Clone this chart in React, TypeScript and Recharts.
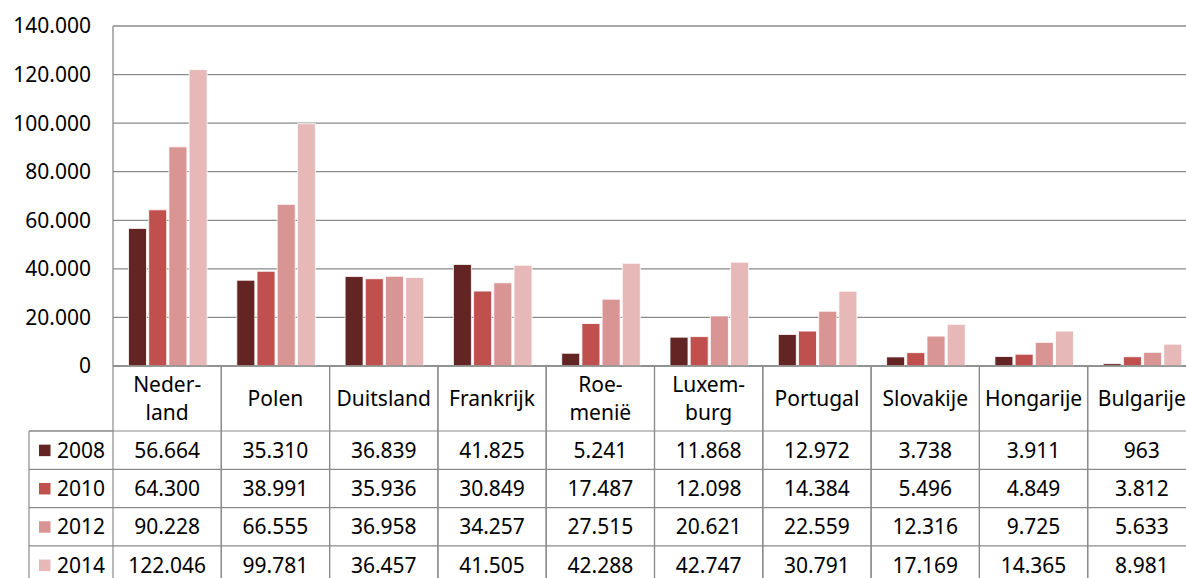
import { BarChart, Bar, XAxis, YAxis, CartesianGrid } from "recharts";

const categories = [
  "Nederland",
  "Polen",
  "Duitsland",
  "Frankrijk",
  "Roemenië",
  "Luxemburg",
  "Portugal",
  "Slovakije",
  "Hongarije",
  "Bulgarije",
];

const categoryLines = [
  ["Neder-", "land"],
  ["Polen"],
  ["Duitsland"],
  ["Frankrijk"],
  ["Roe-", "menië"],
  ["Luxem-", "burg"],
  ["Portugal"],
  ["Slovakije"],
  ["Hongarije"],
  ["Bulgarije"],
];

const values2008 = [56664, 35310, 36839, 41825, 5241, 11868, 12972, 3738, 3911, 963];
const values2010 = [64300, 38991, 35936, 30849, 17487, 12098, 14384, 5496, 4849, 3812];
const values2012 = [90228, 66555, 36958, 34257, 27515, 20621, 22559, 12316, 9725, 5633];
const values2014 = [122046, 99781, 36457, 41505, 42288, 42747, 30791, 17169, 14365, 8981];

const yTicks = [0, 20000, 40000, 60000, 80000, 100000, 120000, 140000];

const SERIES = [
  { key: "y2008", label: "2008", color: "#632523", values: values2008 },
  { key: "y2010", label: "2010", color: "#C0504D", values: values2010 },
  { key: "y2012", label: "2012", color: "#D99594", values: values2012 },
  { key: "y2014", label: "2014", color: "#E6B9B8", values: values2014 },
];

const chartRows = categories.map((name, i) => {
  const row: Record<string, string | number> = { name };
  SERIES.forEach((s) => {
    row[s.key] = s.values[i];
  });
  return row;
});

const FONT = "'Noto Sans', sans-serif";
const FONT_SIZE = 21;
const LINE = "#8a8a8a";
const CHART_W = 1196;
const CHART_H = 578;
const LEFT = 113;
const PLOT_W = CHART_W - LEFT;
const COL_W = PLOT_W / categories.length;
const HEADER_H = 65;
const ROW_H = 38.3;
const LEGEND_LEFT = 29;

function formatNl(value: number) {
  return String(Math.round(value)).replace(/\B(?=(\d{3})+(?!\d))/g, ".");
}

function TableTick(props: any) {
  const { x, y, payload } = props;
  const index = categories.indexOf(payload.value);
  const left = x - COL_W / 2;
  const right = x + COL_W / 2;
  const lines = categoryLines[index] || [payload.value];
  const bottom = y + HEADER_H + ROW_H * SERIES.length + 10;
  const headerMid = y + HEADER_H / 2;

  return (
    <g fontFamily={FONT} fontSize={FONT_SIZE} fill="#000">
      <line x1={left} y1={y} x2={left} y2={bottom} stroke={LINE} strokeWidth={1.2} />
      <line x1={right} y1={y} x2={right} y2={bottom} stroke={LINE} strokeWidth={1.2} />
      {lines.length === 1 ? (
        <text x={x} y={headerMid + 7.5} textAnchor="middle">
          {lines[0]}
        </text>
      ) : (
        lines.map((t, i) => (
          <text key={t} x={x} y={headerMid - 6.5 + i * 28} textAnchor="middle">
            {t}
          </text>
        ))
      )}
      {SERIES.map((s, r) => {
        const top = y + HEADER_H + r * ROW_H;
        return (
          <g key={s.key}>
            <line x1={left} y1={top} x2={right} y2={top} stroke={LINE} strokeWidth={1.2} />
            <text x={x} y={top + ROW_H / 2 + 7.5} textAnchor="middle">
              {formatNl(s.values[index])}
            </text>
          </g>
        );
      })}
      {index === 0 && (
        <g>
          <line x1={LEGEND_LEFT} y1={y + HEADER_H} x2={left} y2={y + HEADER_H} stroke={LINE} strokeWidth={1.2} />
          <line x1={LEGEND_LEFT} y1={y + HEADER_H} x2={LEGEND_LEFT} y2={bottom} stroke={LINE} strokeWidth={1.2} />
          {SERIES.map((s, r) => {
            const top = y + HEADER_H + r * ROW_H;
            return (
              <g key={s.key}>
                <line x1={LEGEND_LEFT} y1={top} x2={left} y2={top} stroke={LINE} strokeWidth={1.2} />
                <rect x={39} y={top + ROW_H / 2 - 5.5} width={11.5} height={11.5} fill={s.color} />
                <text x={57} y={top + ROW_H / 2 + 7.5}>
                  {s.label}
                </text>
              </g>
            );
          })}
        </g>
      )}
    </g>
  );
}

export default function App() {
  return (
    <div
      style={{
        position: "absolute",
        left: 0,
        top: 0,
        width: 1186,
        height: 578,
        overflow: "hidden",
        background: "#fff",
      }}
    >
      <BarChart
        width={CHART_W}
        height={CHART_H}
        data={chartRows}
        margin={{ top: 26, right: 0, left: 0, bottom: 0 }}
        barCategoryGap={15.5}
        barGap={2.2}
      >
        <CartesianGrid vertical={false} stroke={LINE} strokeWidth={1.3} />
        <YAxis
          width={LEFT}
          domain={[0, 140000]}
          ticks={yTicks}
          tickFormatter={formatNl}
          axisLine={{ stroke: LINE, strokeWidth: 1.3 }}
          tickLine={false}
          tickSize={0}
          tickMargin={22}
          tick={{ fontFamily: FONT, fontSize: FONT_SIZE, fill: "#000" }}
        />
        <XAxis
          dataKey="name"
          height={CHART_H - 366}
          interval={0}
          axisLine={{ stroke: LINE, strokeWidth: 1.3 }}
          tickLine={false}
          tickSize={0}
          tickMargin={0}
          tick={<TableTick />}
        />
        {SERIES.map((s) => (
          <Bar
            key={s.key}
            dataKey={s.key}
            fill={s.color}
            stroke="#fff"
            strokeWidth={0.8}
            isAnimationActive={false}
          />
        ))}
      </BarChart>
    </div>
  );
}
